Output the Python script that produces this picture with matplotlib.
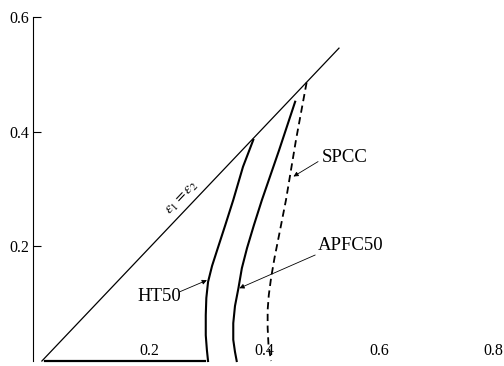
import matplotlib
matplotlib.use("Agg")
import matplotlib.pyplot as plt

# values (minor strain, major strain)
diag_x = [0.012, 0.5305]
diag_y = [0.0, 0.546]

ht50_x = [0.381, 0.363, 0.346, 0.332, 0.319, 0.309, 0.302, 0.299, 0.298,
          0.298, 0.300, 0.302]
ht50_y = [0.386, 0.339, 0.281, 0.237, 0.197, 0.166, 0.138, 0.110, 0.080,
          0.045, 0.019, 0.0]

apfc50_x = [0.454, 0.426, 0.396, 0.382, 0.370, 0.361, 0.355, 0.349, 0.346,
            0.346, 0.349, 0.352]
apfc50_y = [0.4525, 0.368, 0.281, 0.237, 0.197, 0.162, 0.127, 0.096, 0.066,
            0.037, 0.016, 0.0]

spcc_x = [0.474, 0.4555, 0.438, 0.426, 0.418, 0.412, 0.408, 0.406, 0.406,
          0.4075, 0.412]
spcc_y = [0.486, 0.386, 0.281, 0.220, 0.180, 0.145, 0.115, 0.089, 0.058,
          0.028, 0.0]

x_ticks = [0.2, 0.4, 0.6, 0.8]
y_ticks = [0.2, 0.4, 0.6]

# label text, where the text sits, and where its arrow points
labels = ["SPCC", "APFC50", "HT50"]
label_pos = [(0.501, 0.356), (0.494, 0.201), (0.178, 0.113)]
arrow_from = [(0.494, 0.348), (0.489, 0.185), (0.253, 0.121)]
arrow_to = [(0.451, 0.322), (0.3566, 0.127), (0.300, 0.141)]

plt.rcParams['font.family'] = ['Liberation Serif', 'DejaVu Serif']
plt.rcParams['mathtext.fontset'] = 'stix'


def main():
    fig = plt.figure(figsize=(5.04, 3.66), dpi=100)
    ax = fig.add_axes([0, 0, 1, 1])
    ax.set_xlim(-0.0611, 0.8185)
    ax.set_ylim(-0.0087, 0.630)

    ax.plot(diag_x, diag_y, color='black', lw=0.9)
    ax.plot(ht50_x, ht50_y, color='black', lw=1.5)
    ax.plot(apfc50_x, apfc50_y, color='black', lw=1.5)
    ax.plot(spcc_x, spcc_y, color='black', lw=1.3, linestyle=(0, (4, 2.5)))

    ax.text(0.257, 0.283, r'$\varepsilon_1=\varepsilon_2$', fontsize=11,
            rotation=46.5, rotation_mode='anchor', ha='center', va='center')

    for lab, pos in zip(labels, label_pos):
        ax.text(pos[0], pos[1], lab, fontsize=13.5, ha='left', va='center')
    for a, b in zip(arrow_from, arrow_to):
        ax.annotate('', xy=b, xytext=a,
                    arrowprops=dict(arrowstyle='-|>', lw=0.6, color='black',
                                    mutation_scale=7, shrinkA=0, shrinkB=0))

    for s in ['top', 'right']:
        ax.spines[s].set_visible(False)
    ax.spines['left'].set_position(('data', -0.003))
    ax.spines['left'].set_bounds(0, 0.6)
    ax.spines['bottom'].set_position(('data', 0))
    ax.spines['bottom'].set_bounds(0.017, 0.297)
    ax.spines['bottom'].set_linewidth(1.6)

    ax.set_xticks(x_ticks)
    ax.set_xticklabels([f'{v:.1f}' for v in x_ticks])
    ax.set_yticks(y_ticks)
    ax.set_yticklabels([f'{v:.1f}' for v in y_ticks])
    ax.tick_params(axis='y', direction='in', length=6, width=0.8, pad=3,
                   labelsize=11.5)
    ax.tick_params(axis='x', length=0, pad=-13, labelsize=11.5)

    fig.savefig('out.png', dpi=100)


if __name__ == '__main__':
    main()
